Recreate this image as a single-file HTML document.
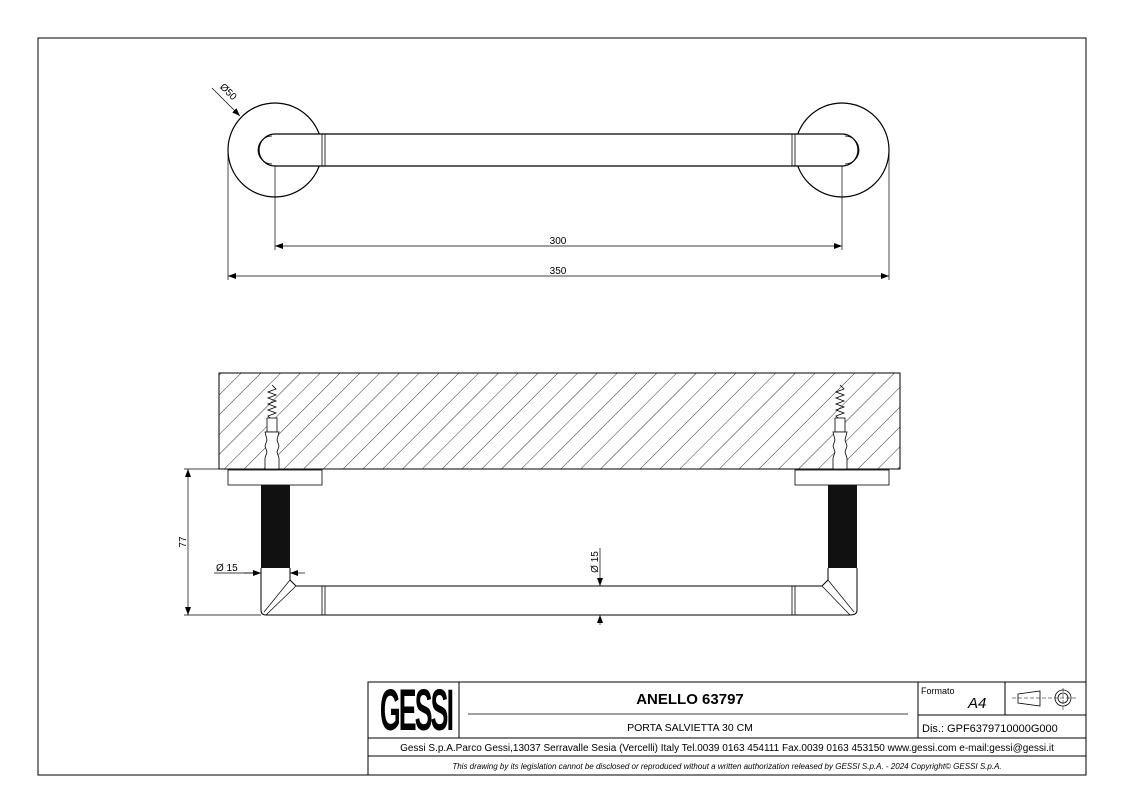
<!DOCTYPE html>
<html><head><meta charset="utf-8"><style>
html,body{margin:0;padding:0;background:#fff;}
svg{display:block;font-family:"Liberation Sans",sans-serif;}
</style></head><body>
<svg width="1123" height="794" viewBox="0 0 1123 794" xmlns="http://www.w3.org/2000/svg">
<defs>
<pattern id="h" width="14" height="14" patternUnits="userSpaceOnUse" patternTransform="rotate(45)">
<line x1="0" y1="0" x2="0" y2="14" stroke="#000" stroke-width="0.8"/>
</pattern>
<marker id="a" markerWidth="8" markerHeight="6" refX="8" refY="3" orient="auto-start-reverse" markerUnits="userSpaceOnUse"><path d="M0,0 L8,3 L0,6z" fill="#000"/></marker>
</defs>
<rect x="38" y="38" width="1048" height="737" fill="none" stroke="#000" stroke-width="1"/>

<g fill="none" stroke="#000" stroke-width="1.2">
<circle cx="275" cy="150" r="47"/>
<circle cx="842" cy="150" r="47"/>
<path d="M275,134 H842 A16,16 0 0 1 842,166 H275 A16,16 0 0 1 275,134 Z" fill="#fff"/>
<path d="M272,136 A14,14 0 0 0 272,164" stroke-width="0.8"/>
<path d="M845,136 A14,14 0 0 1 845,164" stroke-width="0.8"/>
<line x1="322" y1="134" x2="322" y2="166" stroke-width="0.8"/>
<line x1="325" y1="134" x2="325" y2="166" stroke-width="0.8"/>
<line x1="792" y1="134" x2="792" y2="166" stroke-width="0.8"/>
<line x1="795" y1="134" x2="795" y2="166" stroke-width="0.8"/>
</g>
<g stroke="#000" stroke-width="0.7" fill="none">
<line x1="275" y1="166" x2="275" y2="250"/>
<line x1="842" y1="166" x2="842" y2="250"/>
<line x1="228" y1="150" x2="228" y2="280"/>
<line x1="889" y1="150" x2="889" y2="280"/>
<line x1="275" y1="246" x2="842" y2="246" marker-start="url(#a)" marker-end="url(#a)"/>
<line x1="228" y1="276" x2="889" y2="276" marker-start="url(#a)" marker-end="url(#a)"/>
<line x1="212" y1="88" x2="240" y2="116" marker-end="url(#a)"/>
</g>
<text x="226" y="94" font-size="10" transform="rotate(45 226 94)" text-anchor="middle">Ø50</text>
<text x="558" y="244" font-size="10" text-anchor="middle">300</text>
<text x="558" y="274" font-size="10" text-anchor="middle">350</text>

<rect x="219" y="373" width="681" height="96" fill="url(#h)" stroke="#000" stroke-width="1"/>
<g stroke="#000" stroke-width="0.8" fill="#fff">
<g>
<path d="M272,385 l4,4 -8,3 8,3 -8,3 8,3 -8,3 8,3 -8,3 8,3 -8,3 4,4" fill="none"/>
<rect x="267" y="418" width="10" height="14"/>
<path d="M265,432 h14 l-2,8 2,6 -2,6 2,6 v11 h-14 v-11 l2,-6 -2,-6 2,-6z"/>
</g>
<g>
<path d="M840,385 l4,4 -8,3 8,3 -8,3 8,3 -8,3 8,3 -8,3 8,3 -8,3 4,4" fill="none"/>
<rect x="835" y="418" width="10" height="14"/>
<path d="M833,432 h14 l-2,8 2,6 -2,6 2,6 v11 h-14 v-11 l2,-6 -2,-6 2,-6z"/>
</g>
<rect x="228" y="470" width="94" height="15"/>
<rect x="795" y="470" width="94" height="15"/>
</g>
<rect x="261" y="485" width="29" height="83" fill="#111"/>
<rect x="828" y="485" width="29" height="83" fill="#111"/>
<g stroke="#000" stroke-width="1" fill="none">
<path d="M261,568 V610 Q261,615 266,615 H850 Q857,615 857,610 V568"/>
<path d="M290,568 V580 L296,586 H822 L828,580 V568"/>
<path d="M296,586 L266,615 M290,580 L264,612 M822,586 L850,615 M828,580 L854,612" stroke-width="0.7"/>
<line x1="322" y1="586" x2="322" y2="615" stroke-width="0.8"/>
<line x1="325" y1="586" x2="325" y2="615" stroke-width="0.8"/>
<line x1="792" y1="586" x2="792" y2="615" stroke-width="0.8"/>
<line x1="795" y1="586" x2="795" y2="615" stroke-width="0.8"/>
</g>
<g stroke="#000" stroke-width="0.7" fill="none">
<line x1="184" y1="469" x2="228" y2="469"/>
<line x1="184" y1="615" x2="261" y2="615"/>
<line x1="188" y1="469" x2="188" y2="615" marker-start="url(#a)" marker-end="url(#a)"/>
<line x1="214" y1="573" x2="261" y2="573"/>
<line x1="244" y1="573" x2="261" y2="573" marker-end="url(#a)"/>
<line x1="305" y1="573" x2="290" y2="573" marker-end="url(#a)"/>
<line x1="600" y1="548" x2="600" y2="586" marker-end="url(#a)"/>
<line x1="600" y1="625" x2="600" y2="615" marker-end="url(#a)"/>
</g>
<text x="186" y="542" font-size="10" transform="rotate(-90 186 542)" text-anchor="middle">77</text>
<text x="216" y="571" font-size="10">Ø 15</text>
<text x="598" y="562" font-size="10" transform="rotate(-90 598 562)" text-anchor="middle">Ø 15</text>

<g stroke="#000" stroke-width="1" fill="none">
<rect x="368" y="682" width="718" height="93" fill="#fff"/>
<line x1="368" y1="738" x2="1086" y2="738"/>
<line x1="368" y1="756" x2="1086" y2="756"/>
<line x1="459" y1="682" x2="459" y2="738"/>
<line x1="918" y1="682" x2="918" y2="738"/>
<line x1="1005" y1="682" x2="1005" y2="715"/>
<line x1="918" y1="715" x2="1086" y2="715"/>
<line x1="468" y1="714" x2="908" y2="714" stroke-width="0.8"/>
<path d="M1018,694 L1040,691 V706 L1018,703 Z" stroke-width="0.8"/>
<line x1="1012" y1="698" x2="1078" y2="698" stroke-width="0.5" stroke-dasharray="4,2"/>
<line x1="1063" y1="688" x2="1063" y2="710" stroke-width="0.5" stroke-dasharray="4,2"/>
<circle cx="1063" cy="698" r="8" stroke-width="0.8"/>
<circle cx="1063" cy="698" r="5" stroke-width="0.8"/>
</g>
<text x="0" y="0" font-size="58" font-weight="bold" text-anchor="middle" transform="translate(416,730) scale(0.46,1)" letter-spacing="-4">GESSI</text>
<text x="690" y="704" font-size="15" font-weight="bold" text-anchor="middle">ANELLO 63797</text>
<text x="690" y="731" font-size="10.5" text-anchor="middle">PORTA SALVIETTA 30 CM</text>
<text x="921" y="694" font-size="9">Formato</text>
<text x="968" y="708" font-size="15" font-style="italic">A4</text>
<text x="922" y="732" font-size="11">Dis.: GPF6379710000G000</text>
<text x="727" y="751" font-size="10" text-anchor="middle">Gessi S.p.A.Parco Gessi,13037 Serravalle Sesia (Vercelli) Italy Tel.0039 0163 454111 Fax.0039 0163 453150 www.gessi.com e-mail:gessi@gessi.it</text>
<text x="727" y="769" font-size="8" font-style="italic" text-anchor="middle">This drawing by its legislation cannot be disclosed or reproduced without a written authorization released by GESSI S.p.A. - 2024 Copyright© GESSI S.p.A.</text>
</svg>
</body></html>
